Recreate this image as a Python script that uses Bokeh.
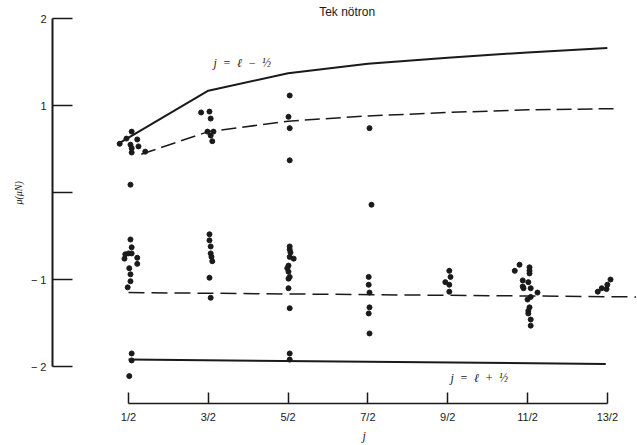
from bokeh.plotting import figure
from bokeh.models import Range1d, FixedTicker, Label, Title
from bokeh.embed import file_html
from bokeh.resources import INLINE

# ---------------- data ----------------
title_text = "Tek nötron"
x_axis_title = "j"
y_axis_title = "μ(μN)"
x_ticks = [0.5, 1.5, 2.5, 3.5, 4.5, 5.5, 6.5]
x_tick_labels = ["1/2", "3/2", "5/2", "7/2", "9/2", "11/2", "13/2"]
y_ticks = [-2, -1, 0, 1, 2]
y_tick_labels = ["− 2", "− 1", "", "1", "2"]

# Schmidt line j = l - 1/2 (solid, upper)
upper_solid_j = [0.39, 1.5, 2.5, 3.5, 4.5, 5.5, 6.5]
upper_solid_mu = [0.57, 1.17, 1.37, 1.48, 1.55, 1.61, 1.66]
# dashed curve (upper)
upper_dash_j = [0.66, 1.5, 2.5, 3.5, 4.5, 5.5, 6.64]
upper_dash_mu = [0.44, 0.70, 0.82, 0.88, 0.92, 0.95, 0.965]
# dashed line (lower)
lower_dash_j = [0.5, 6.86]
lower_dash_mu = [-1.15, -1.20]
# Schmidt line j = l + 1/2 (solid, lower)
lower_solid_j = [0.5, 6.48]
lower_solid_mu = [-1.92, -1.97]

# measured moments (j, mu)
pts_j = [
    0.39, 0.475, 0.54, 0.61, 0.525, 0.54, 0.54, 0.625, 0.71, 0.525,
    0.525, 0.54, 0.46, 0.50, 0.54, 0.45, 0.61, 0.61, 0.51, 0.525, 0.525, 0.49,
    0.54, 0.54, 0.51,
    1.41, 1.515, 1.53, 1.49, 1.565, 1.53, 1.55,
    1.515, 1.515, 1.53, 1.53, 1.54, 1.55, 1.515, 1.53,
    2.52, 2.505, 2.52, 2.52,
    2.52, 2.52, 2.53, 2.52, 2.57, 2.505, 2.49, 2.505, 2.52, 2.505, 2.505, 2.52,
    2.52, 2.52,
    3.52, 3.545, 3.51, 3.51, 3.52, 3.52, 3.51, 3.52,
    4.52, 4.535, 4.47, 4.52, 4.52,
    5.40, 5.34, 5.525, 5.525, 5.525, 5.44, 5.51, 5.44, 5.45, 5.54, 5.625,
    5.54, 5.50, 5.525, 5.51, 5.51, 5.54, 5.54,
    6.38, 6.43, 6.49, 6.50, 6.54,
]
pts_mu = [
    0.56, 0.62, 0.70, 0.61, 0.55, 0.51, 0.46, 0.53, 0.47, 0.09,
    -0.54, -0.63, -0.71, -0.70, -0.70, -0.76, -0.75, -0.82, -0.87, -0.94, -1.02, -1.09,
    -1.85, -1.93, -2.11,
    0.92, 0.93, 0.85, 0.70, 0.70, 0.655, 0.59,
    -0.48, -0.55, -0.62, -0.70, -0.74, -0.79, -0.98, -1.21,
    1.115, 0.87, 0.74, 0.37,
    -0.62, -0.655, -0.69, -0.74, -0.76, -0.84, -0.87, -0.91, -0.97, -0.99, -1.10, -1.33,
    -1.85, -1.92,
    0.74, -0.14, -0.97, -1.06, -1.15, -1.32, -1.39, -1.62,
    -0.90, -0.97, -1.03, -1.06, -1.14,
    -0.83, -0.90, -0.86, -0.90, -0.93, -1.01, -1.03, -1.08, -1.10, -1.10, -1.15,
    -1.20, -1.23, -1.32, -1.36, -1.39, -1.46, -1.53,
    -1.14, -1.10, -1.11, -1.06, -1.00,
]

ink = "#1a1a1a"
sans = "Liberation Sans"
serif = "Liberation Serif"
sp = "\u2002"

p = figure(width=637, height=445, output_backend="svg", toolbar_location=None,
           x_range=Range1d(-0.452, 6.878), y_range=Range1d(-2.425, 2.207),
           min_border_left=52, min_border_right=0, min_border_top=0,
           min_border_bottom=42)
p.outline_line_color = None
p.grid.visible = False
p.background_fill_color = "white"
p.border_fill_color = "white"

# y axis
yax = p.yaxis[0]
yax.ticker = FixedTicker(ticks=y_ticks)
yax.major_label_overrides = {t: l for t, l in zip(y_ticks, y_tick_labels)}
yax.bounds = (-2, 2)
yax.major_tick_in = 20
yax.major_tick_out = 0
yax.minor_tick_line_color = None
yax.axis_line_width = 2
yax.axis_line_color = ink
yax.major_tick_line_width = 1.5
yax.major_tick_line_color = ink
yax.major_label_text_font = sans
yax.major_label_text_font_size = "11px"
yax.major_label_text_color = ink
yax.major_label_standoff = 6

# x axis
xax = p.xaxis[0]
xax.ticker = FixedTicker(ticks=x_ticks)
xax.major_label_overrides = {t: l for t, l in zip(x_ticks, x_tick_labels)}
xax.bounds = (0.5, 6.5)
xax.major_tick_in = 11
xax.major_tick_out = 0
xax.minor_tick_line_color = None
xax.axis_line_width = 1.5
xax.axis_line_color = ink
xax.major_tick_line_width = 1.5
xax.major_tick_line_color = ink
xax.major_label_text_font = sans
xax.major_label_text_font_size = "11px"
xax.major_label_text_color = ink
xax.major_label_standoff = 7

# axis titles as side titles (outside the frame)
p.add_layout(Title(text=x_axis_title, align="left", offset=310, standoff=2,
                   text_font=serif, text_font_style="italic",
                   text_font_size="12px", text_color=ink), "below")
p.add_layout(Title(text=y_axis_title, align="left", offset=199, standoff=8,
                   text_font=serif, text_font_style="italic",
                   text_font_size="10px", text_color=ink), "left")

# lines
p.line(upper_solid_j, upper_solid_mu, line_color=ink, line_width=2)
p.line(upper_dash_j, upper_dash_mu, line_color=ink, line_width=1.5, line_dash="15 6")
p.line(lower_dash_j, lower_dash_mu, line_color=ink, line_width=1.5, line_dash="16 7")
p.line(lower_solid_j, lower_solid_mu, line_color=ink, line_width=2)

# points
p.scatter(pts_j, pts_mu, size=5, color=ink, marker="circle")

# texts
p.add_layout(Label(x=3.24, y=2.07, text=title_text, text_font=sans,
                   text_font_size="12px", text_color=ink,
                   text_align="center", text_baseline="middle"))
p.add_layout(Label(x=1.565, y=1.49, text=sp.join(["j", "=", "ℓ", "−", "½"]),
                   text_font=serif, text_font_style="italic",
                   text_font_size="12px", text_color=ink,
                   text_align="left", text_baseline="middle"))
p.add_layout(Label(x=4.535, y=-2.13, text=sp.join(["j", "=", "ℓ", "+", "½"]),
                   text_font=serif, text_font_style="italic",
                   text_font_size="12px", text_color=ink,
                   text_align="left", text_baseline="middle"))

open("out.html", "w").write(file_html(p, INLINE))
